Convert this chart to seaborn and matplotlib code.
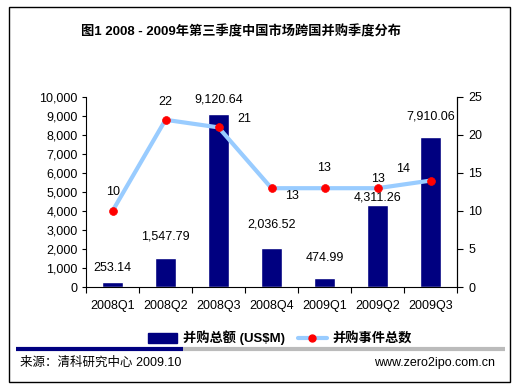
import numpy as np
import matplotlib.pyplot as plt
import seaborn as sns
from matplotlib.patches import Patch, Rectangle
from matplotlib.lines import Line2D
from matplotlib.ticker import FuncFormatter, FixedLocator

# data
quarters = ['2008Q1', '2008Q2', '2008Q3', '2008Q4', '2009Q1', '2009Q2', '2009Q3']
amounts = [253.14, 1547.79, 9120.64, 2036.52, 474.99, 4311.26, 7910.06]
deals = [10, 22, 21, 13, 13, 13, 14]

sns.set_style('white')
plt.rcParams['font.family'] = ['Liberation Sans', 'Noto Sans CJK SC', 'DejaVu Sans']
plt.rcParams['font.size'] = 9
for k in ['text.color', 'axes.labelcolor', 'xtick.color', 'ytick.color']:
    plt.rcParams[k] = 'black'

NAVY = '#000080'
LBLUE = '#99CCFF'

fig = plt.figure(figsize=(5.2, 3.89), dpi=100)
ax = fig.add_axes([86 / 520, 1 - 287 / 389, (457 - 86) / 520, 190 / 389])

sns.barplot(x=quarters, y=amounts, color=NAVY, saturation=1, width=0.4, ax=ax)
ax.set_xlim(-0.5, len(quarters) - 0.5)
ax.set_ylim(0, 10000)
ax.set_yticks(np.arange(0, 10001, 1000))
ax.yaxis.set_major_formatter(FuncFormatter(lambda v, p: f'{v:,.0f}'))
ax.set_xlabel('')
ax.set_ylabel('')

# tick marks between categories
ax.xaxis.set_minor_locator(FixedLocator(np.arange(-0.5, len(quarters), 1.0)))
ax.tick_params(axis='x', which='major', length=0, pad=9, labelsize=9)
ax.tick_params(axis='x', which='minor', length=4, width=0.8, direction='out', bottom=True)
ax.tick_params(axis='y', length=3, width=0.8, direction='out', left=True, pad=3, labelsize=9)

for s in ['left', 'bottom', 'right']:
    ax.spines[s].set_visible(True)
    ax.spines[s].set_color('black')
    ax.spines[s].set_linewidth(0.8)
ax.spines['top'].set_visible(False)

# bar labels (offsets in pixels above bar top)
bar_off = [8, 15, 8, 18, 14, 2, 14]
for i, v in enumerate(amounts):
    ax.annotate(f'{v:,.2f}', xy=(i, v), xytext=(0, bar_off[i]),
                textcoords='offset pixels', ha='center', va='bottom', fontsize=9)

# line on secondary axis
ax2 = ax.twinx()
idx = np.arange(len(quarters))
sns.lineplot(x=idx, y=deals, color=LBLUE, lw=3, ax=ax2, zorder=3)
sns.scatterplot(x=idx, y=deals, color='red', s=32, marker='o', edgecolor='red',
                linewidth=0.5, ax=ax2, zorder=4)
ax2.set_ylim(0, 25)
ax2.set_yticks(np.arange(0, 26, 5))
ax2.tick_params(axis='y', length=4, width=0.8, direction='out', right=True, pad=4, labelsize=9)
for s in ax2.spines.values():
    s.set_visible(False)
ax2.spines['right'].set_visible(True)
ax2.spines['right'].set_color('black')
ax2.spines['right'].set_linewidth(0.8)

line_off = [(1, 19), (0, 18), (26, 8), (20, -8), (0, 20), (0, 9), (-27, 12)]
for i, v in enumerate(deals):
    dx, dy = line_off[i]
    ax2.annotate(f'{v}', xy=(i, v), xytext=(dx, dy), textcoords='offset pixels',
                 ha='center', va='center', fontsize=9)

# title
fig.text(241 / 520, 1 - 32 / 389, '图1 2008 - 2009年第三季度中国市场跨国并购季度分布',
         ha='center', va='center', fontsize=9.5, fontweight='bold')

# legend
handles = [Patch(facecolor=NAVY, edgecolor=NAVY),
           Line2D([0], [0], color=LBLUE, lw=3, marker='o', markersize=5,
                  markerfacecolor='red', markeredgecolor='red')]
fig.legend(handles, [r'并购总额 (US\$M)', '并购事件总数'], loc='center',
           bbox_to_anchor=(280 / 520, 1 - 338 / 389), ncol=2, frameon=False,
           prop={'weight': 'bold', 'size': 9.5}, handlelength=2.2, handleheight=0.8,
           columnspacing=1.0, handletextpad=0.4)

# separator line and footer
ysep = 1 - 349 / 389
fig.add_artist(Line2D([16 / 520, 183 / 520], [ysep, ysep], color=NAVY, lw=3,
                      transform=fig.transFigure, solid_capstyle='butt'))
fig.add_artist(Line2D([183 / 520, 505 / 520], [ysep, ysep], color='#BBBBBB', lw=3,
                      transform=fig.transFigure, solid_capstyle='butt'))
fig.text(20 / 520, 1 - 363 / 389, '来源：清科研究中心 2009.10', ha='left', va='center', fontsize=9)
fig.text(495 / 520, 1 - 363 / 389, 'www.zero2ipo.com.cn', ha='right', va='center', fontsize=9)

# outer border
fig.add_artist(Rectangle((9 / 520, 1 - 382 / 389), (510 - 9) / 520, (382 - 7) / 389,
                         transform=fig.transFigure, fill=False, edgecolor='black', lw=1))

fig.savefig('out.png', dpi=100, facecolor='white')
